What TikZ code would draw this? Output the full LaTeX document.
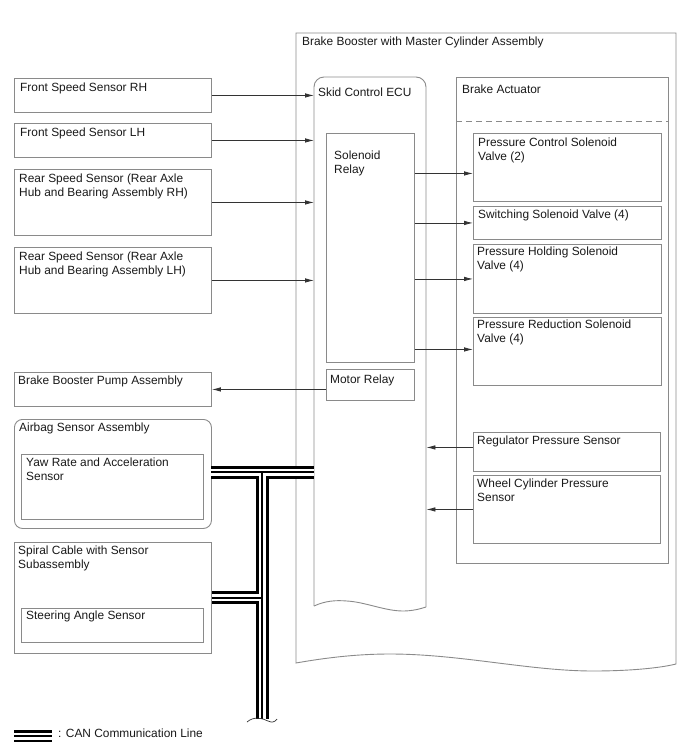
\documentclass[tikz,border=0pt]{standalone}
\usepackage{fontspec}
\setmainfont{Liberation Sans}
\usetikzlibrary{arrows.meta}
\definecolor{boxgray}{HTML}{8A8A8A}
\definecolor{linedark}{HTML}{333333}
\begin{document}
\begin{tikzpicture}[x=1pt,y=-1pt,
  box/.style={draw=boxgray, line width=0.9pt, inner sep=0pt, anchor=north west},
  boxline/.style={draw=boxgray, line width=0.9pt},
  lbl/.style={anchor=north west, inner sep=0pt, align=left, font=\fontsize{11.9pt}{13.6pt}\selectfont, text=black!90},
  arr/.style={draw=linedark, line width=0.75pt, -{Latex[length=9pt,width=4.5pt]}},
  canA/.style={line width=13pt, black},
  canB/.style={line width=7pt, white},
  canC/.style={line width=1.2pt, black},
  legA/.style={line width=11.5pt, black},
  legB/.style={line width=7pt, white},
  legC/.style={line width=2.4pt, black}]
\useasboundingbox (0,0) rectangle (688,755);

% Brake booster outer outline
\draw[boxline] (296,663) -- (296,33) -- (676,33) -- (676,664)
  .. controls (660,668) and (630,671) .. (593,671)
  .. controls (530,671) and (460,654) .. (390,654)
  .. controls (360,654) and (330,657) .. (296,663) -- cycle;
\node[lbl] (tbooster) at (302,37) {Brake Booster with Master Cylinder Assembly};

% Skid Control ECU
\draw[boxline, rounded corners=10pt] (314,606) -- (314,77) -- (426,77) -- (426,607);
\draw[boxline] (426,607) .. controls (420,609) and (412,611) .. (403,611)
  .. controls (385,611) and (365,602) .. (347,601)
  .. controls (335,600) and (325,601) .. (314,606);
\node[inner sep=0pt, anchor=north west, minimum width=112pt, minimum height=529pt] (ecu) at (314,77) {};
\node[lbl] (tecu) at (318,88) {Skid Control ECU};

\node[box, minimum width=88pt, minimum height=229pt] (sol) at (326,133) {};
\node[lbl] (tsol) at (334,151) {Solenoid\\Relay};
\node[box, minimum width=88pt, minimum height=31pt] (motor) at (326,369) {};
\node[lbl] (tmotor) at (330,375) {Motor Relay};

% Brake actuator
\node[box, minimum width=212pt, minimum height=486pt] (act) at (456,77) {};
\node[lbl] (tact) at (462,85) {Brake Actuator};
\draw[boxgray, line width=0.9pt, dash pattern=on 6pt off 4pt] (act.west |- 0,121) -- (act.east |- 0,121);

\node[box, minimum width=188pt, minimum height=68pt] (pcsv) at (473,133) {};
\node[lbl] at (478,138) {Pressure Control Solenoid\\Valve (2)};
\node[box, minimum width=188pt, minimum height=33pt] (ssv) at (473,206) {};
\node[lbl] at (478,210) {Switching Solenoid Valve (4)};
\node[box, minimum width=188pt, minimum height=69pt] (phsv) at (473,244) {};
\node[lbl] at (477,247) {Pressure Holding Solenoid\\Valve (4)};
\node[box, minimum width=188pt, minimum height=68pt] (prsv) at (473,317) {};
\node[lbl] at (477,320) {Pressure Reduction Solenoid\\Valve (4)};
\node[box, minimum width=187pt, minimum height=39pt] (reg) at (473,432) {};
\node[lbl] at (477,436) {Regulator Pressure Sensor};
\node[box, minimum width=187pt, minimum height=68pt] (wcp) at (473,475) {};
\node[lbl] at (477,479) {Wheel Cylinder Pressure\\Sensor};

% Left boxes
\node[box, minimum width=197pt, minimum height=34pt] (fsrh) at (14,78) {};
\node[lbl] at (20,83) {Front Speed Sensor RH};
\node[box, minimum width=197pt, minimum height=34pt] (fslh) at (14,123) {};
\node[lbl] at (20,128) {Front Speed Sensor LH};
\node[box, minimum width=197pt, minimum height=66pt] (rrh) at (14,169) {};
\node[lbl] at (19,174) {Rear Speed Sensor (Rear Axle\\Hub and Bearing Assembly RH)};
\node[box, minimum width=197pt, minimum height=66pt] (rlh) at (14,247) {};
\node[lbl] at (19,252) {Rear Speed Sensor (Rear Axle\\Hub and Bearing Assembly LH)};
\node[box, minimum width=197pt, minimum height=34pt] (pump) at (14,372) {};
\node[lbl] at (18,376) {Brake Booster Pump Assembly};
\node[box, rounded corners=8pt, minimum width=197pt, minimum height=109pt] (airbag) at (14,419) {};
\node[lbl] at (19,423) {Airbag Sensor Assembly};
\node[box, minimum width=182pt, minimum height=65pt] (yaw) at (21,454) {};
\node[lbl] at (26,458) {Yaw Rate and Acceleration\\Sensor};
\node[box, minimum width=197pt, minimum height=111pt] (spiral) at (14,542) {};
\node[lbl] at (18,546) {Spiral Cable with Sensor\\Subassembly};
\node[box, minimum width=182pt, minimum height=34pt] (steer) at (21,608) {};
\node[lbl] at (26,611) {Steering Angle Sensor};

% Arrows
\draw[arr] (fsrh.east) -- (fsrh.east -| ecu.west);
\draw[arr] (fslh.east) -- (fslh.east -| ecu.west);
\draw[arr] (rrh.east) -- (rrh.east -| ecu.west);
\draw[arr] (rlh.east) -- (rlh.east -| ecu.west);
\coordinate (pcin) at ([yshift=-6pt]pcsv.west);
\draw[arr] (sol.east |- pcin) -- (pcin);
\draw[arr] (sol.east |- ssv.west) -- (ssv.west);
\draw[arr] (sol.east |- phsv.west) -- (phsv.west);
\coordinate (prin) at ([yshift=2pt]prsv.west);
\draw[arr] (sol.east |- prin) -- (prin);
\coordinate (regout) at ([yshift=4.5pt]reg.west);
\draw[arr] (regout) -- (regout -| ecu.east);
\draw[arr] (wcp.west) -- (wcp.west -| ecu.east);
\draw[arr] (motor.west |- pump.east) -- (pump.east);

% CAN lines
\coordinate (c1) at (211,472);
\coordinate (c2) at (314,472);
\coordinate (cT) at (262,472);
\coordinate (cB) at (262,719);
\coordinate (s1) at (spiral.east);
\coordinate (sT) at (s1 -| cT);
\foreach \s in {canA,canB,canC}{
  \draw[\s] (c1) -- (c2);
  \draw[\s] (cT) -- (cB);
  \draw[\s] (s1) -- (sT);
}
\draw[linedark, line width=0.7pt] (247,722) .. controls (254,716) and (262,718) .. (268,721) .. controls (272,723) and (275,722) .. (277,719);

% Legend
\coordinate (l1) at (14,736);
\coordinate (l2) at (52,736);
\foreach \s in {legA,legB,legC}{ \draw[\s] (l1) -- (l2); }
\node[lbl] at (58,729) {: CAN Communication Line};
\end{tikzpicture}
\end{document}
